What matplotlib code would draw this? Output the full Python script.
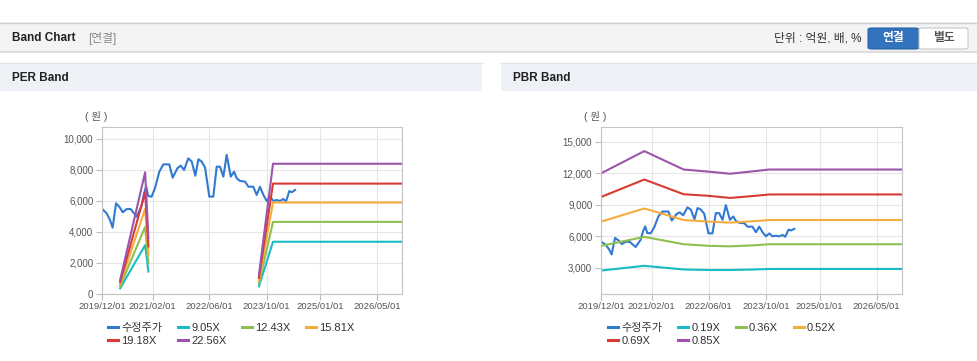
import matplotlib.pyplot as plt
import pandas as pd
from matplotlib.patches import Rectangle, FancyBboxPatch
from matplotlib.lines import Line2D

plt.rcParams['font.family'] = ['Liberation Sans', 'Noto Sans CJK KR']

# ---------------- data ----------------
price_dates = ['2019-12-01', '2020-01-07', '2020-02-05', '2020-02-27', '2020-03-27', '2020-04-24',
               '2020-05-23', '2020-06-26', '2020-07-30', '2020-08-27', '2020-09-19', '2020-10-02',
               '2020-10-31', '2020-11-20', '2020-12-09', '2020-12-26', '2021-01-24', '2021-02-22',
               '2021-03-31', '2021-05-04', '2021-06-24', '2021-07-23', '2021-09-01', '2021-09-29',
               '2021-10-28', '2021-12-03', '2022-01-01', '2022-02-01', '2022-02-27', '2022-03-27',
               '2022-04-25', '2022-05-31', '2022-07-04', '2022-08-02', '2022-08-30', '2022-09-28',
               '2022-10-26', '2022-11-30', '2022-12-28', '2023-01-20', '2023-02-17', '2023-04-01',
               '2023-04-29', '2023-06-10', '2023-07-09', '2023-08-06', '2023-09-04', '2023-10-02',
               '2023-10-31', '2023-11-28', '2023-12-27', '2024-01-24', '2024-02-21', '2024-03-15',
               '2024-04-12', '2024-05-03', '2024-05-31']
price_vals = [5480, 5200, 4770, 4280, 5850, 5630, 5270, 5480, 5480, 5200, 4990, 5210,
              5680, 6470, 6940, 6320, 6280, 6820, 7890, 8360, 8360, 7500, 8110, 8280,
              8000, 8750, 8540, 7630, 8690, 8540, 8150, 6280, 6280, 8210, 8210, 7570,
              8970, 7570, 7890, 7460, 7290, 7250, 6920, 6920, 6390, 6920, 6390, 6000,
              6280, 6000, 6060, 6000, 6130, 5960, 6640, 6560, 6710]

# PER bands: two separate segments
per_seg1_dates = ['2020-05-01', '2020-11-30', '2020-12-28']
per_seg2_dates = ['2023-07-28', '2023-11-25', '2026-12-01']
per_labels = ['9.05X', '12.43X', '15.81X', '19.18X', '22.56X']
per_seg1 = [[362, 3150, 1450],
            [497, 4330, 2000],
            [632, 5500, 2530],
            [767, 6550, 3070],
            [900, 7850, 3600]]
per_seg2 = [[490, 3370, 3370],
            [670, 4650, 4650],
            [855, 5900, 5900],
            [1040, 7120, 7120],
            [1220, 8400, 8400]]

# PBR bands
pbr_dates = ['2019-12-01', '2020-12-01', '2021-11-01', '2022-06-01', '2022-12-01',
             '2023-07-01', '2023-11-01', '2026-12-01']
pbr_labels = ['0.19X', '0.36X', '0.52X', '0.69X', '0.85X']
pbr_bands = [[2750, 3200, 2850, 2800, 2800, 2850, 2900, 2900],
             [5100, 5950, 5250, 5100, 5050, 5150, 5250, 5250],
             [7400, 8650, 7550, 7400, 7300, 7450, 7550, 7550],
             [9750, 11400, 10000, 9850, 9650, 9850, 9980, 9980],
             [12000, 14100, 12350, 12150, 11950, 12200, 12350, 12350]]

xtick_dates = ['2019-12-01', '2021-02-01', '2022-06-01', '2023-10-01', '2025-01-01', '2026-05-01']
xtick_labels = ['2019/12/01', '2021/02/01', '2022/06/01', '2023/10/01', '2025/01/01', '2026/05/01']
per_yticks = [0, 2000, 4000, 6000, 8000, 10000]
per_ylabels = ['0', '2,000', '4,000', '6,000', '8,000', '10,000']
pbr_yticks = [3000, 6000, 9000, 12000, 15000]
pbr_ylabels = ['3,000', '6,000', '9,000', '12,000', '15,000']

price_color = '#3179d1'
band_colors = ['#19bcc6', '#8fbf50', '#f4ad3d', '#d93a33', '#9c55aa']

W, H = 978, 361


def fx(px):
    return px / W


def fy(py):
    return 1 - py / H


fig = plt.figure(figsize=(W / 100, H / 100), dpi=100)

# ---------------- page header ----------------
fig.add_artist(Rectangle((0, fy(52)), 1, 30 / H, transform=fig.transFigure, fc='#f4f4f4', ec='none'))
fig.add_artist(Line2D([0, 1], [fy(22.5)] * 2, transform=fig.transFigure, color='#d0d0d0', lw=1))
fig.add_artist(Line2D([0, 1], [fy(52)] * 2, transform=fig.transFigure, color='#d8d8d8', lw=1.2))
fig.text(fx(12), fy(38), 'Band Chart', fontsize=8.5, fontweight='bold', color='#222', va='center')
fig.text(fx(88), fy(38.5), '[연결]', fontsize=8.5, color='#888', va='center')
fig.text(fx(862), fy(38.5), '단위 : 억원, 배, %', fontsize=8.5, color='#333', va='center', ha='right')
fig.add_artist(FancyBboxPatch((fx(868), fy(49)), fx(51), 21 / H, boxstyle='round,pad=0,rounding_size=0.004',
                              transform=fig.transFigure, fc='#3373bd', ec='#2a65a8', lw=0.8))
fig.add_artist(FancyBboxPatch((fx(919), fy(49)), fx(49), 21 / H, boxstyle='round,pad=0,rounding_size=0.004',
                              transform=fig.transFigure, fc='white', ec='#c8c8c8', lw=0.8))
fig.text(fx(893.5), fy(38.5), '연결', fontsize=8.5, fontweight='bold', color='white', ha='center', va='center')
fig.text(fx(943.5), fy(38.5), '별도', fontsize=8.5, fontweight='bold', color='#555', ha='center', va='center')

# panel headers
for x0, x1, title in [(0, 482, 'PER Band'), (501, 978, 'PBR Band')]:
    fig.add_artist(Rectangle((fx(x0), fy(91)), fx(x1 - x0), 28 / H, transform=fig.transFigure,
                             fc='#eef1f5', ec='none'))
    fig.add_artist(Line2D([fx(x0), fx(x1)], [fy(63)] * 2, transform=fig.transFigure, color='#dfe4ea', lw=1))
    fig.text(fx(x0 + 12), fy(78), title, fontsize=8.5, fontweight='bold', color='#222', va='center')

x_start = pd.Timestamp('2019-12-01')
x_end = pd.Timestamp('2026-12-01')


def style(ax, yticks, ylabels, ylim):
    ax.set_xlim(x_start, x_end)
    ax.set_ylim(ylim)
    ax.set_xticks(pd.to_datetime(xtick_dates))
    ax.set_xticklabels(xtick_labels)
    ax.set_yticks(yticks)
    ax.set_yticklabels(ylabels)
    ax.grid(color='#e6e6e6', lw=0.8)
    ax.set_axisbelow(True)
    for s in ax.spines.values():
        s.set_color('#c4c4c4')
        s.set_linewidth(0.8)
    ax.tick_params(axis='both', colors='#bbbbbb', labelcolor='#555', length=4, width=0.8)
    ax.tick_params(axis='y', labelsize=7, pad=2.5)
    ax.tick_params(axis='x', labelsize=6.8, pad=2)
    ax.text(-0.021, 1.058, '( 원 )', transform=ax.transAxes, fontsize=7.5, color='#555',
            ha='center', va='center')


def add_legend(ax, handles, labels, x_px):
    # row-major order as in the picture (matplotlib fills columns first)
    order = [0, 4, 1, 5, 2, 3]
    ax.legend([handles[i] for i in order], [labels[i] for i in order],
              loc='upper left', bbox_to_anchor=(fx(x_px), fy(323)), bbox_transform=fig.transFigure,
              ncol=4, frameon=False, fontsize=8, handlelength=0.9, handletextpad=0.3,
              columnspacing=1.4, labelspacing=0.3, borderpad=0, borderaxespad=0, labelcolor='#333')


# ---------------- PER band ----------------
ax1 = fig.add_axes([fx(102.3), fy(294), 300 / W, 167.3 / H])
ax1.plot(pd.to_datetime(price_dates), price_vals, color=price_color, lw=1.5)
per_handles = [Line2D([], [], color=price_color, lw=2.2)]
for s1, s2, c in zip(per_seg1, per_seg2, band_colors):
    ax1.plot(pd.to_datetime(per_seg1_dates), s1, color=c, lw=1.5)
    ax1.plot(pd.to_datetime(per_seg2_dates), s2, color=c, lw=1.5)
    per_handles.append(Line2D([], [], color=c, lw=2.2))
style(ax1, per_yticks, per_ylabels, (0, 10790))
add_legend(ax1, per_handles, ['수정주가'] + per_labels, 108)

# ---------------- PBR band ----------------
ax2 = fig.add_axes([fx(601.3), fy(294), 300.4 / W, 167.3 / H])
ax2.plot(pd.to_datetime(price_dates), price_vals, color=price_color, lw=1.5)
pbr_handles = [Line2D([], [], color=price_color, lw=2.2)]
for vals, c in zip(pbr_bands, band_colors):
    ax2.plot(pd.to_datetime(pbr_dates), vals, color=c, lw=1.5)
    pbr_handles.append(Line2D([], [], color=c, lw=2.2))
style(ax2, pbr_yticks, pbr_ylabels, (520, 16420))
add_legend(ax2, pbr_handles, ['수정주가'] + pbr_labels, 608)

fig.savefig('out.png', dpi=100, facecolor='white')
